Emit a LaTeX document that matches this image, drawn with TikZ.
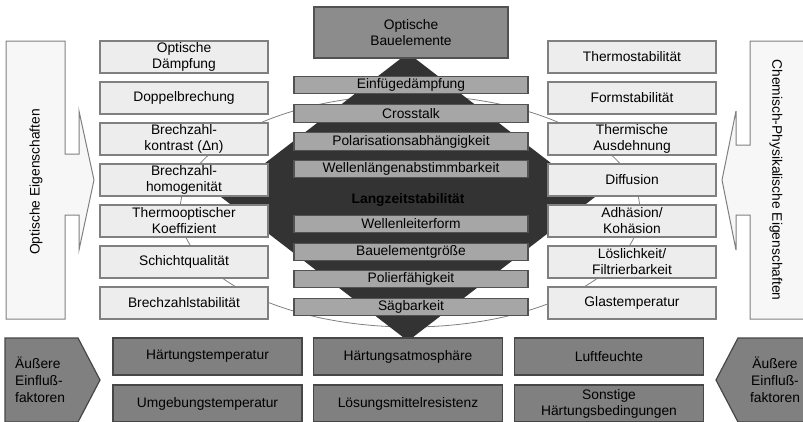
\documentclass[tikz,border=0pt]{standalone}
\usepackage{fontspec}
\setmainfont{Liberation Sans}
\usepackage{tikz}

\tikzset{
  txt/.style={align=center,inner sep=0pt,font=\fontsize{13.8}{16}\selectfont},
  lightbox/.style={txt,draw=black!50,line width=1.2pt,fill=black!7,minimum width=168pt,minimum height=32pt},
  midbox/.style={txt,draw=black!68,line width=1.2pt,fill=black!35,minimum width=234pt,minimum height=17.5pt},
  topbox/.style={txt,draw=black!68,line width=1.2pt,fill=black!45,minimum width=194pt,minimum height=51pt},
  basebox/.style={txt,draw=black!72,line width=1.2pt,fill=black!50,minimum width=189pt,minimum height=37pt},
  sidearrow/.style={draw=black!50,line width=1pt,fill=black!3},
  pentagon/.style={draw=black!72,line width=1.2pt,fill=black!50}
}

\begin{document}
\begin{tikzpicture}[x=1pt,y=-1pt]
\useasboundingbox (0,0) rectangle (803,421);
%Ellipse
\draw[black!50,line width=0.8pt] (410,211) ellipse [x radius=230,y radius=116];
%Raute
\fill[black!80] (408,53) -- (595,197) -- (408,341) -- (221,197) -- cycle;
\node (lzs) at (408,200) [txt,font=\fontsize{13.8}{16}\selectfont\bfseries] {Langzeitstabilität};
%Pfeile links/rechts
\draw[sidearrow] (6,41) -- (65,41) -- (65,154) -- (79,154) -- (79,111) -- (94,180)
  -- (79,250) -- (79,215) -- (65,215) -- (65,319) -- (6,319) -- cycle;
\draw[sidearrow] (812,41) -- (750,41) -- (750,145) -- (736,145) -- (736,111) -- (722,180)
  -- (736,250) -- (736,215) -- (750,215) -- (750,319) -- (812,319) -- cycle;
\node (opteig) at (36,182) [txt,rotate=90] {Optische Eigenschaften};
\node (chemeig) at (776,180) [txt,rotate=-90] {Chemisch-Physikalische Eigenschaften};
%optische Eigenschaften
\node (daempf) at (184,57) [lightbox] {Optische\\Dämpfung};
\node (doppel) at (184,98) [lightbox] {Doppelbrechung};
\node (kontr) at (184,139) [lightbox] {Brechzahl-\\kontrast (Δn)};
\node (homog) at (184,180) [lightbox] {Brechzahl-\\homogenität};
\node (thermopt) at (184,221) [lightbox] {Thermooptischer\\Koeffizient};
\node (schicht) at (184,262) [lightbox] {Schichtqualität};
\node (bstab) at (184,303) [lightbox] {Brechzahlstabilität};
%chemisch-physikalische Eigenschaften
\node (thstab) at (632,57) [lightbox] {Thermostabilität};
\node (fstab) at (632,98) [lightbox] {Formstabilität};
\node (ausd) at (632,139) [lightbox] {Thermische\\Ausdehnung};
\node (diff) at (632,180) [lightbox] {Diffusion};
\node (adh) at (632,221) [lightbox] {Adhäsion/\\Kohäsion};
\node (loesl) at (632,262) [lightbox] {Löslichkeit/\\Filtrierbarkeit};
\node (glas) at (632,303) [lightbox] {Glastemperatur};
%Mitte
\node (bauel) at (411,32.5) [topbox] {Optische\\Bauelemente};
\node (einf) at (411,85) [midbox] {Einfügedämpfung};
\node (cross) at (411,113.5) [midbox] {Crosstalk};
\node (polar) at (411,141.5) [midbox] {Polarisationsabhängigkeit};
\node (wlab) at (411,169) [midbox] {Wellenlängenabstimmbarkeit};
\node (wlform) at (411,224) [midbox] {Wellenleiterform};
\node (groesse) at (411,252) [midbox] {Bauelementgröße};
\node (polier) at (411,279) [midbox] {Polierfähigkeit};
\node (saeg) at (411,307) [midbox] {Sägbarkeit};
%äußere Einflüsse
\draw[pentagon] (5,338) -- (78,338) -- (100,380) -- (78,422) -- (5,422) -- cycle;
\draw[pentagon] (812,338) -- (738,338) -- (716,380) -- (738,422) -- (812,422) -- cycle;
\node (einfl1) at (15,380) [txt,anchor=west,align=left,font=\fontsize{13.8}{17}\selectfont] {Äußere\\Einfluß-\\faktoren};
\node (einfl2) at (775,380) [txt,font=\fontsize{13.8}{17}\selectfont] {Äußere\\Einfluß-\\faktoren};
\node (htemp) at (207.5,356.5) [basebox] {Härtungstemperatur};
\node (hatm) at (408,356.5) [basebox] {Härtungsatmosphäre};
\node (luft) at (609,356.5) [basebox] {Luftfeuchte};
\node (utemp) at (207.5,403.5) [basebox] {Umgebungstemperatur};
\node (lmres) at (408,403.5) [basebox] {Lösungsmittelresistenz};
\node (sonst) at (609,403.5) [basebox] {Sonstige\\Härtungsbedingungen};
\end{tikzpicture}
\end{document}
